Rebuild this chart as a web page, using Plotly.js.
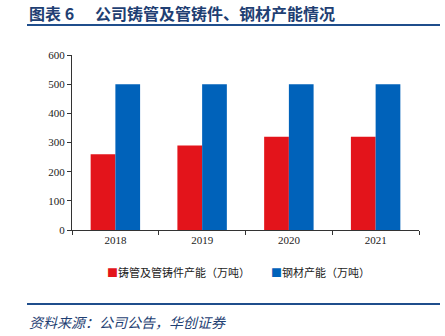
<!DOCTYPE html>
<html><head><meta charset="utf-8">
<script src="https://cdn.plot.ly/plotly-3.0.1.min.js"></script>
<style>html,body{margin:0;padding:0;background:#fff}#c{width:445px;height:336px}</style>
</head><body><div id="c"></div>
<script>
const years = ['2018','2019','2020','2021'];
const pipeCapacity = [260, 290, 320, 320];
const steelCapacity = [500, 500, 500, 500];
const seriesNames = ['铸管及管铸件产能（万吨）', '钢材产能（万吨）'];
const seriesColors = ['#E3141B', '#0062BA'];
const yTicks = [0,100,200,300,400,500,600];

const serif = 'Liberation Serif, Times New Roman, serif';
const cjk = 'Noto Sans CJK SC, sans-serif';
const W = 347, H = 175, L = 72, T = 55;
const px = x => (x - L) / W;
const py = y => (T + H - y) / H;

const data = [
  {type:'bar', x:years, y:pipeCapacity, name:seriesNames[0], marker:{color:seriesColors[0]}},
  {type:'bar', x:years, y:steelCapacity, name:seriesNames[1], marker:{color:seriesColors[1]}}
];
const layout = {
  width:445, height:336,
  margin:{l:72, r:26, t:55, b:106},
  paper_bgcolor:'#fff', plot_bgcolor:'#fff',
  barmode:'group', bargap:0.43, bargroupgap:0,
  showlegend:false,
  xaxis:{type:'category', showline:true, linecolor:'#333', linewidth:1,
    ticks:'outside', ticklen:4, tickcolor:'#333', tickson:'boundaries',
    tickfont:{family:serif, size:11, color:'#222'}, showgrid:false, fixedrange:true},
  yaxis:{range:[0,600], tickvals:yTicks, showline:true, linecolor:'#333', linewidth:1,
    ticks:'outside', ticklen:4, tickcolor:'#333', showgrid:false, zeroline:false,
    tickfont:{family:serif, size:11, color:'#222'}},
  shapes:[
    {type:'line', xref:'paper', yref:'paper', x0:px(27), x1:px(440), y0:py(25), y1:py(25), line:{color:'#1F4E8C', width:2}},
    {type:'line', xref:'paper', yref:'paper', x0:px(27), x1:px(440), y0:py(304), y1:py(304), line:{color:'#1F4E8C', width:2}}
  ],
  annotations:[
    {xref:'paper', yref:'paper', x:px(27), y:py(13), xanchor:'left', yanchor:'middle', showarrow:false,
     text:'<b>图表 6</b>', font:{family:cjk, size:16, color:'#1F3F73'}},
    {xref:'paper', yref:'paper', x:px(93), y:py(13), xanchor:'left', yanchor:'middle', showarrow:false,
     text:'<b>公司铸管及管铸件、钢材产能情况</b>', font:{family:cjk, size:16, color:'#1F3F73'}},
    {xref:'paper', yref:'paper', x:px(105), y:py(272), xanchor:'left', yanchor:'middle', showarrow:false,
     text:'<span style="color:'+seriesColors[0]+'">■</span>'+seriesNames[0], font:{family:cjk, size:11, color:'#222'}},
    {xref:'paper', yref:'paper', x:px(269), y:py(272), xanchor:'left', yanchor:'middle', showarrow:false,
     text:'<span style="color:'+seriesColors[1]+'">■</span>'+seriesNames[1], font:{family:cjk, size:11, color:'#222'}},
    {xref:'paper', yref:'paper', x:px(27), y:py(322), xanchor:'left', yanchor:'middle', showarrow:false,
     text:'<i>资料来源：公司公告，华创证券</i>', font:{family:cjk, size:14, color:'#1F3F73'}}
  ]
};
Plotly.newPlot('c', data, layout, {staticPlot:true, displayModeBar:false});
</script></body></html>
